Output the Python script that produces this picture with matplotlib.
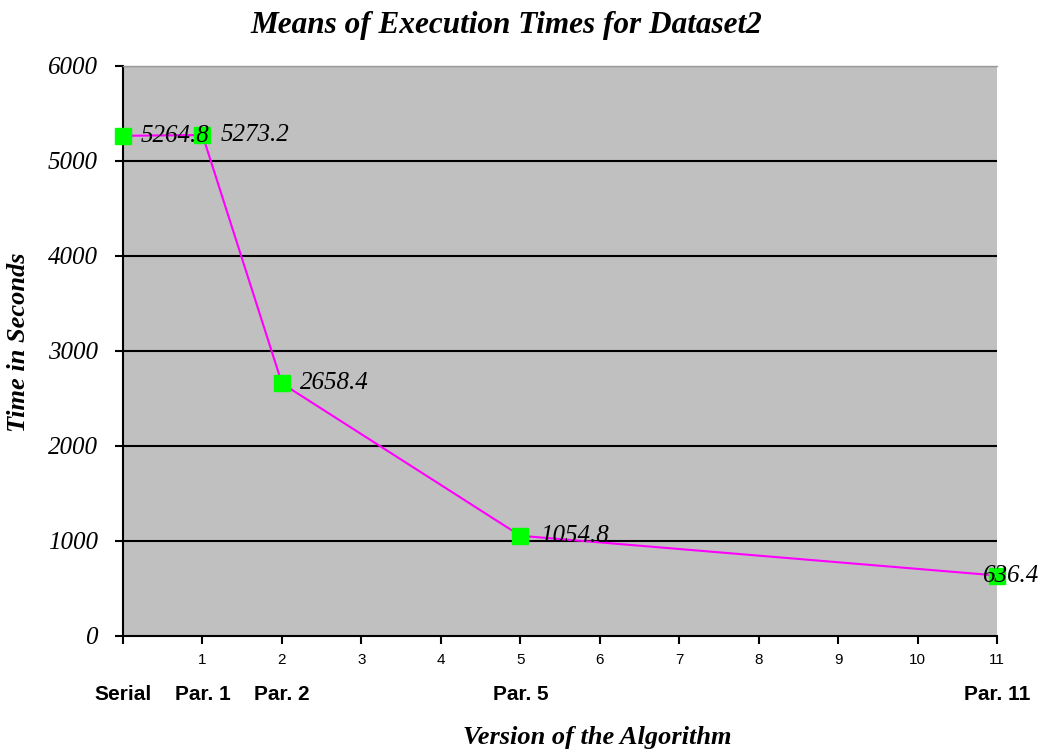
import matplotlib.pyplot as plt
import matplotlib.transforms as mtransforms

versions = [0, 1, 2, 5, 11]
version_names = ['Serial', 'Par. 1', 'Par. 2', 'Par. 5', 'Par. 11']
mean_times = [5264.8, 5273.2, 2658.4, 1054.8, 636.4]

fig = plt.figure(figsize=(10.47, 7.53), dpi=100)
ax = fig.add_axes([0.1175, 0.1554, 0.835, 0.757])
ax.set_facecolor('#C0C0C0')

ax.set_xlim(0, 11)
ax.set_ylim(0, 6000)

# horizontal grid lines
for y in range(1000, 7000, 1000):
    ax.axhline(y, color='black', lw=1.5, zorder=1)

ax.plot(versions, mean_times, color='#FF00FF', lw=1.5, zorder=3)
ax.plot(versions, mean_times, 's', color='#00FF00', ms=11, zorder=4, clip_on=False)

# value labels, the last one pulled back so it stays on the figure
label_dx = [13, 13, 13, 14, -10]
for x, y, dx in zip(versions, mean_times, label_dx):
    ax.annotate(f'{y}', (x, y), xytext=(dx, 0), textcoords='offset points',
                va='center', ha='left', fontsize=18, style='italic',
                family='Liberation Serif', zorder=5, annotation_clip=False)

# spines
ax.spines['right'].set_visible(False)
ax.spines['top'].set_color('#999999')
ax.spines['top'].set_linewidth(1)
ax.spines['left'].set_linewidth(1.5)
ax.spines['bottom'].set_linewidth(1.5)

ax.set_yticks(range(0, 7000, 1000))
ax.set_yticklabels([str(v) for v in range(0, 7000, 1000)], family='Liberation Serif',
                   style='italic', fontsize=18)
ax.tick_params(axis='y', length=6, width=1.5, pad=12)

ax.set_xticks(range(0, 12))
ax.set_xticklabels([''] + [str(i) for i in range(1, 12)], family='Liberation Sans', fontsize=11)
ax.tick_params(axis='x', length=6, width=1.5, pad=6)

trans = mtransforms.blended_transform_factory(ax.transData, ax.transAxes)
for x, name in zip(versions, version_names):
    ax.text(x, -0.1035, name, transform=trans, ha='center', va='center',
            family='Liberation Sans', fontweight='bold', fontsize=15)

fig.text(0.484, 0.966, 'Means of Execution Times for Dataset2', ha='center', va='center',
         family='Liberation Serif', fontweight='bold', style='italic', fontsize=22.5)
fig.text(0.570, 0.020, 'Version of the Algorithm', ha='center', va='center',
         family='Liberation Serif', fontweight='bold', style='italic', fontsize=19)
fig.text(0.018, 0.546, 'Time in Seconds', ha='center', va='center', rotation=90,
         family='Liberation Serif', fontweight='bold', style='italic', fontsize=19)

fig.savefig('out.png', dpi=100)
